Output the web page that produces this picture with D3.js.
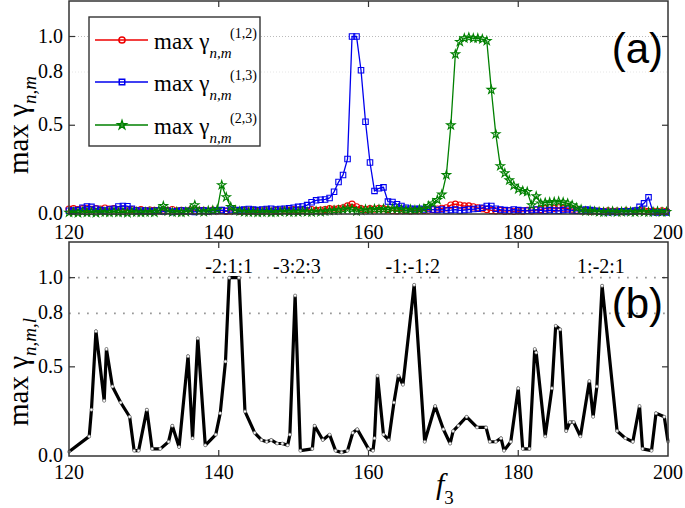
<!DOCTYPE html>
<html>
<head>
<meta charset="utf-8">
<script src="https://cdn.jsdelivr.net/npm/d3@7"></script>
<style>
  body { margin: 0; background: #fff; }
  svg { display: block; }
</style>
</head>
<body>
<svg id="chart"></svg>
<script>
// panel (a): sampled f3 values, shared by the three curves
const f3A = [120.0,120.6,121.2,121.8,122.4,123.0,123.6,124.2,124.8,125.4,
  126.0,126.6,127.2,127.8,128.4,129.0,129.6,130.2,130.8,131.4,
  132.0,132.6,133.2,133.8,134.4,135.0,135.6,136.2,136.8,137.4,
  138.0,138.6,139.2,139.8,140.4,141.0,141.6,142.2,142.8,143.4,
  144.0,144.6,145.2,145.8,146.4,147.0,147.6,148.2,148.8,149.4,
  150.0,150.6,151.2,151.8,152.4,153.0,153.6,154.2,154.8,155.4,
  156.0,156.6,157.2,157.8,158.4,159.0,159.6,160.2,160.8,161.4,
  162.0,162.6,163.2,163.8,164.4,165.0,165.6,166.2,166.8,167.4,
  168.0,168.6,169.2,169.8,170.4,171.0,171.6,172.2,172.8,173.4,
  174.0,174.6,175.2,175.8,176.4,177.0,177.6,178.2,178.8,179.4,
  180.0,180.6,181.2,181.8,182.4,183.0,183.6,184.2,184.8,185.4,
  186.0,186.6,187.2,187.8,188.4,189.0,189.6,190.2,190.8,191.4,
  192.0,192.6,193.2,193.8,194.4,195.0,195.6,196.2,196.8,197.4,
  198.0,198.6,199.2,199.8]

const gamma12 = [0.028,0.03,0.025,0.03,0.032,0.026,0.03,0.028,0.033,0.027,
  0.03,0.025,0.028,0.022,0.025,0.02,0.024,0.018,0.022,0.02,
  0.018,0.022,0.02,0.025,0.018,0.02,0.016,0.022,0.018,0.02,
  0.02,0.016,0.022,0.018,0.02,0.015,0.018,0.022,0.016,0.02,
  0.018,0.02,0.015,0.018,0.022,0.016,0.02,0.018,0.022,0.02,
  0.024,0.02,0.022,0.018,0.025,0.02,0.022,0.025,0.03,0.028,
  0.03,0.035,0.045,0.055,0.04,0.03,0.025,0.03,0.028,0.032,
  0.03,0.025,0.02,0.018,0.022,0.02,0.018,0.02,0.022,0.02,
  0.022,0.025,0.028,0.032,0.035,0.05,0.055,0.05,0.045,0.045,
  0.04,0.035,0.03,0.025,0.02,0.018,0.02,0.016,0.018,0.015,
  0.018,0.016,0.02,0.018,0.022,0.025,0.03,0.035,0.032,0.035,
  0.03,0.033,0.028,0.022,0.018,0.02,0.015,0.018,0.016,0.015,
  0.018,0.015,0.016,0.014,0.018,0.015,0.016,0.02,0.018,0.015,
  0.016,0.014,0.018,0.015]

const gamma13 = [0.018,0.02,0.022,0.035,0.042,0.04,0.03,0.022,0.02,0.025,
  0.03,0.042,0.045,0.044,0.03,0.02,0.018,0.02,0.015,0.018,
  0.02,0.015,0.018,0.012,0.015,0.02,0.018,0.015,0.012,0.018,
  0.02,0.015,0.018,0.02,0.022,0.018,0.025,0.02,0.022,0.025,
  0.028,0.025,0.022,0.025,0.028,0.03,0.025,0.028,0.03,0.032,
  0.035,0.04,0.042,0.05,0.066,0.077,0.08,0.082,0.09,0.125,
  0.18,0.22,0.31,1.0,1.0,0.81,0.52,0.29,0.13,0.145,
  0.15,0.07,0.068,0.055,0.045,0.035,0.03,0.028,0.03,0.025,
  0.028,0.025,0.022,0.025,0.02,0.022,0.025,0.02,0.022,0.025,
  0.028,0.03,0.035,0.045,0.045,0.03,0.025,0.022,0.02,0.025,
  0.022,0.02,0.018,0.022,0.025,0.02,0.018,0.022,0.02,0.018,
  0.022,0.025,0.02,0.018,0.02,0.025,0.022,0.018,0.015,0.012,
  0.01,0.012,0.01,0.015,0.012,0.015,0.02,0.04,0.06,0.094,
  0.01,0.008,0.01,0.008]

const gamma23 = [0.008,0.01,0.006,0.012,0.008,0.01,0.006,0.012,0.01,0.008,
  0.012,0.008,0.01,0.006,0.012,0.01,0.008,0.01,0.012,0.008,
  0.02,0.045,0.015,0.01,0.012,0.008,0.012,0.025,0.05,0.015,
  0.012,0.018,0.02,0.025,0.163,0.095,0.04,0.02,0.015,0.012,
  0.01,0.012,0.008,0.01,0.012,0.008,0.01,0.012,0.015,0.01,
  0.012,0.01,0.015,0.012,0.01,0.015,0.012,0.015,0.018,0.02,
  0.022,0.025,0.03,0.028,0.015,0.02,0.025,0.022,0.028,0.025,
  0.028,0.025,0.03,0.028,0.025,0.022,0.025,0.022,0.025,0.03,
  0.045,0.06,0.08,0.11,0.22,0.5,0.9,0.97,0.99,0.995,
  0.99,0.99,0.985,0.975,0.7,0.45,0.27,0.23,0.19,0.16,
  0.14,0.13,0.125,0.05,0.1,0.06,0.064,0.066,0.068,0.07,
  0.066,0.06,0.05,0.035,0.025,0.015,0.018,0.015,0.012,0.01,
  0.012,0.015,0.01,0.012,0.015,0.012,0.01,0.015,0.012,0.01,
  0.012,0.015,0.01,0.012]

// panel (b): max over triads
const f3B = [120,122.7,123.0,123.6,124.7,125.0,125.8,126.9,128.1,128.7,129.3,130.4,131.1,132.2,
  133.3,133.8,134.7,135.9,136.5,137.2,138.2,139.6,140.2,140.9,141.4,142.7,143.5,144.8,145.7,
  146.4,147.0,147.8,148.5,149.2,149.5,150.2,150.9,152.5,152.8,153.9,154.8,155.6,156.4,157.2,
  157.9,158.5,160.0,160.6,160.8,161.2,162.0,162.7,163.4,164.0,164.6,166.1,167.5,168.9,170.0,
  170.9,171.3,172.0,173.1,174.5,175.7,176.2,177.0,177.7,178.1,179.0,180.0,180.6,181.5,182.2,
  182.4,183.6,184.5,185.0,185.6,186.4,186.9,187.4,188.3,189.5,190.0,190.5,191.2,193.2,194.3,
  195.3,196.2,196.6,197.8,198.4,199.5,200.0]
const gammaB = [0.024,0.11,0.26,0.70,0.31,0.60,0.39,0.30,0.22,0.03,0.03,0.26,0.04,0.04,
  0.08,0.17,0.05,0.56,0.10,0.66,0.06,0.12,0.24,0.53,1.0,1.0,0.25,0.13,0.09,
  0.08,0.09,0.07,0.07,0.06,0.12,0.90,0.03,0.04,0.17,0.09,0.12,0.03,0.02,0.03,
  0.13,0.15,0.04,0.03,0.10,0.45,0.12,0.09,0.30,0.45,0.40,0.96,0.08,0.28,0.15,
  0.07,0.14,0.17,0.22,0.16,0.16,0.08,0.08,0.10,0.03,0.08,0.38,0.04,0.04,0.60,
  0.58,0.11,0.38,0.73,0.71,0.14,0.19,0.19,0.11,0.42,0.22,0.39,0.955,0.14,0.10,
  0.08,0.28,0.04,0.03,0.24,0.22,0.08]

const triadLabels = ["-2:1:1", "-3:2:3", "-1:-1:2", "1:-2:1"]
const triadAt = [141.4, 150.45, 165.9, 191.05]

const xTicks = [120, 140, 160, 180, 200]
const yTicks = [0, 0.5, 0.8, 1.0]
const yTickLabels = ["0.0", "0.5", "0.8", "1.0"]

const seriesNames = ["(1,2)", "(1,3)", "(2,3)"]
const seriesColors = ["#ee0000", "#0000ee", "#008000"]

const width = 685
const height = 508
const serif = "Liberation Serif, DejaVu Serif, serif"
const sans = "Liberation Sans, Arial, sans-serif"

const svg = d3.select("#chart").attr("width", width).attr("height", height)

const x = d3.scaleLinear().domain([120, 200]).range([69, 668])
const yA = d3.scaleLinear().domain([0, 1.2]).range([214, 1])
const yB = d3.scaleLinear().domain([0, 1.2]).range([456, 242])

//draws the grid, ticks and tick labels of one panel
const drawFrame = (y, gridStyle, labelY) => {
  const top = y.range()[1], bottom = y.range()[0]
  const g = svg.append("g")

  gridStyle.forEach(s => {
    g.append("line")
     .attr("x1", x(120)).attr("x2", x(200))
     .attr("y1", y(s.v)).attr("y2", y(s.v))
     .attr("stroke", s.color).attr("stroke-width", s.w)
     .attr("stroke-dasharray", s.dash)
  })

  xTicks.slice(1, -1).forEach(t => {
    g.append("line").attr("x1", x(t)).attr("x2", x(t)).attr("y1", bottom).attr("y2", bottom - 6)
     .attr("stroke", "#333").attr("stroke-width", 1.2)
    g.append("line").attr("x1", x(t)).attr("x2", x(t)).attr("y1", top).attr("y2", top + 6)
     .attr("stroke", "#333").attr("stroke-width", 1.2)
  })
  ;[0.5, 1.0].forEach(t => {
    g.append("line").attr("x1", x(120)).attr("x2", x(120) + 6).attr("y1", y(t)).attr("y2", y(t))
     .attr("stroke", "#333").attr("stroke-width", 1.2)
    g.append("line").attr("x1", x(200)).attr("x2", x(200) - 6).attr("y1", y(t)).attr("y2", y(t))
     .attr("stroke", "#333").attr("stroke-width", 1.2)
  })

  g.selectAll(".xl").data(xTicks).join("text")
   .attr("x", d => x(d)).attr("y", labelY)
   .attr("text-anchor", "middle")
   .attr("font-family", serif).attr("font-size", 20)
   .text(d => d)

  g.selectAll(".yl").data(yTicks).join("text")
   .attr("x", 63).attr("y", d => y(d) + 6)
   .attr("text-anchor", "end")
   .attr("font-family", serif).attr("font-size", 20)
   .text((d, i) => yTickLabels[i])

  return g
}

const frameBox = (y) => {
  svg.append("rect")
     .attr("x", x(120)).attr("y", y.range()[1])
     .attr("width", x(200) - x(120)).attr("height", y.range()[0] - y.range()[1])
     .attr("fill", "none").attr("stroke", "#333").attr("stroke-width", 1.5)
}

// ---------- panel (a)
drawFrame(yA, [
  {v: 1.0, color: "#bbb", w: 1, dash: "1,2"},
  {v: 0.8, color: "#e6e6e6", w: 1, dash: "1,2"}
], 239)

const lineA = (vals) => d3.line().x((d, i) => x(f3A[i])).y(d => yA(d))(vals)
const allSeries = [gamma12, gamma13, gamma23]
const symbols = [d3.symbolCircle, d3.symbolSquare, d3.symbolStar]
const symSizes = [30, 30, 22]

const drawMarker = (sel, k) => {
  sel.attr("d", d3.symbol().type(symbols[k]).size(symSizes[k]))
     .attr("fill", "none").attr("stroke", seriesColors[k]).attr("stroke-width", 1.1)
}

allSeries.forEach((vals, k) => {
  const g = svg.append("g")
  g.append("path").attr("d", lineA(vals))
   .attr("fill", "none").attr("stroke", seriesColors[k]).attr("stroke-width", 1.3)
  g.selectAll("path.m").data(vals).join("path").attr("class", "m")
   .attr("transform", (d, i) => `translate(${x(f3A[i])},${yA(d)})`)
   .call(drawMarker, k)
})

frameBox(yA)

// legend
const leg = svg.append("g")
leg.append("rect").attr("x", 89).attr("y", 17).attr("width", 171).attr("height", 129)
   .attr("fill", "#fff").attr("stroke", "#333").attr("stroke-width", 1.4)
const legY = [40, 82, 125]
seriesNames.forEach((name, k) => {
  leg.append("line").attr("x1", 95).attr("x2", 148).attr("y1", legY[k]).attr("y2", legY[k])
     .attr("stroke", seriesColors[k]).attr("stroke-width", 1.5)
  leg.append("path").attr("transform", `translate(122,${legY[k]})`).call(drawMarker, k)
     .attr("stroke-width", 1.5)
  const t = leg.append("text").attr("x", 154).attr("y", legY[k] + 9)
     .attr("font-family", serif).attr("font-size", 23)
  t.append("tspan").text("max γ")
  t.append("tspan").attr("dy", 9).attr("font-size", 15).attr("font-style", "italic").text("n,m")
  leg.append("text").attr("x", 230).attr("y", legY[k] - 2)
     .attr("font-family", serif).attr("font-size", 14).text(name)
})

svg.append("text").attr("x", 663).attr("y", 63).attr("text-anchor", "end")
   .attr("font-family", sans).attr("font-size", 42)
   .text("(a)")

// ---------- panel (b)
drawFrame(yB, [
  {v: 1.0, color: "#999", w: 1.8, dash: "1.8,7.2"},
  {v: 0.8, color: "#999", w: 1.8, dash: "1.8,7.2"}
], 479)

const lineB = d3.line().x((d, i) => x(f3B[i])).y(d => yB(d))
svg.append("path").attr("d", lineB(gammaB))
   .attr("fill", "none").attr("stroke", "#000").attr("stroke-width", 3.2)
   .attr("stroke-linejoin", "round")
svg.selectAll("circle.pb").data(gammaB).join("circle").attr("class", "pb")
   .attr("cx", (d, i) => x(f3B[i])).attr("cy", d => yB(d)).attr("r", 1.5)
   .attr("fill", "#fff").attr("stroke", "#777").attr("stroke-width", 0.7)

frameBox(yB)

svg.selectAll("text.tri").data(triadLabels).join("text").attr("class", "tri")
   .attr("x", (d, i) => x(triadAt[i])).attr("y", 273)
   .attr("text-anchor", "middle")
   .attr("font-family", serif).attr("font-size", 20)
   .text(d => d)

svg.append("text").attr("x", 663).attr("y", 318).attr("text-anchor", "end")
   .attr("font-family", sans).attr("font-size", 42)
   .text("(b)")

// axis titles
const yTitle = (cy, sub) => {
  const t = svg.append("text")
     .attr("transform", `translate(28,${cy}) rotate(-90)`)
     .attr("text-anchor", "middle")
     .attr("font-family", serif).attr("font-size", 29)
  t.append("tspan").text("max γ")
  t.append("tspan").attr("dy", 8).attr("font-size", 19).attr("font-style", "italic").text(sub)
}
yTitle(125, "n,m")
yTitle(372, "n,m,l")

const xt = svg.append("text").attr("x", 436).attr("y", 494)
   .attr("font-family", serif).attr("font-size", 30)
xt.append("tspan").attr("font-style", "italic").text("f")
xt.append("tspan").attr("dy", 10).attr("font-size", 19).text("3")
</script>
</body>
</html>
